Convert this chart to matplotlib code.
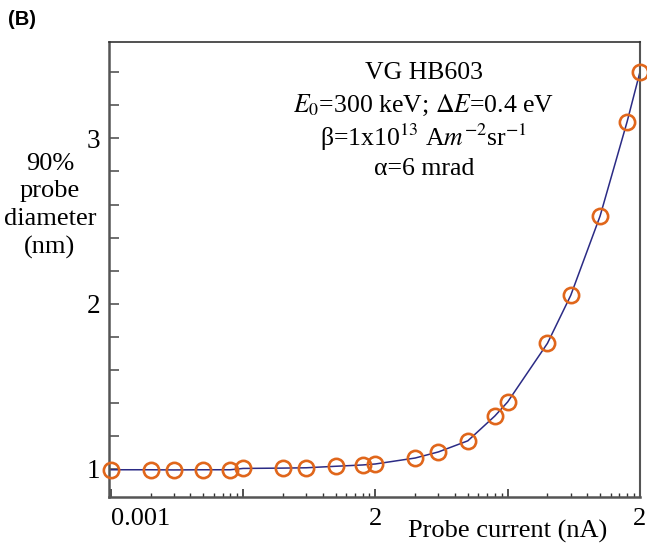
import matplotlib
matplotlib.use("Agg")
import matplotlib.pyplot as plt
from matplotlib.ticker import LogLocator, NullFormatter, MultipleLocator

plt.rcParams['font.family'] = ['Liberation Serif', 'DejaVu Serif']
plt.rcParams['mathtext.fontset'] = 'stix'

# probe current (nA) and 90% probe diameter (nm)
current = [0.001, 0.002, 0.003, 0.005, 0.008, 0.01, 0.02, 0.03, 0.05, 0.08, 0.1,
           0.2, 0.3, 0.5, 0.8, 1, 2, 3, 5, 8, 10]
diameter = [0.995, 0.995, 0.994, 0.995, 0.995, 1.003, 1.005, 1.007, 1.016, 1.024, 1.03,
            1.066, 1.103, 1.17, 1.32, 1.405, 1.76, 2.05, 2.53, 3.10, 3.40]

xtick_pos = [0.001, 0.01, 0.1, 1, 10]
xtick_labels = ["0.001", "", "2", "", "2"]
ytick_pos = [1, 2, 3]

params = ["VG HB603",
          r"$E_0$=300 keV; $\Delta E$=0.4 eV",
          r"β=1x10$^{13}$ A$m^{-2}$sr$^{-1}$",
          "α=6 mrad"]

fig = plt.figure(figsize=(6.47, 5.46), dpi=100)
ax = fig.add_axes([0.1677, 0.0903, 0.8213, 0.8327])

ax.plot(current, diameter, color='#2b2b85', lw=1.1, zorder=2, clip_on=False)
ax.plot(current, diameter, 'o', ms=11, mfc='none', mec='#e0661b', mew=1.9,
        zorder=3, clip_on=False)

ax.set_xscale('log')
ax.set_xlim(0.00096, 10)
ax.set_ylim(0.832, 3.583)

ax.set_xticks(xtick_pos)
ax.set_xticklabels(xtick_labels)
ax.xaxis.set_minor_locator(LogLocator(base=10, subs=range(2, 10)))
ax.xaxis.set_minor_formatter(NullFormatter())
ax.get_xticklabels()[0].set_ha('left')

ax.set_yticks(ytick_pos)
ax.yaxis.set_minor_locator(MultipleLocator(0.2))

ax.tick_params(axis='x', which='major', direction='in', length=6, width=1.2,
               labelsize=19, pad=8, color='#333333')
ax.tick_params(axis='x', which='minor', direction='in', length=3, width=1.0,
               color='#333333')
ax.tick_params(axis='y', which='both', direction='in', length=7.5, width=1.2,
               labelsize=19.5, pad=6, color='#555555')

for side in ['left', 'bottom']:
    ax.spines[side].set_color('#555555')
    ax.spines[side].set_linewidth(1.8)
ax.spines['top'].set_color('#333333')
ax.spines['top'].set_linewidth(1.2)
ax.spines['right'].set_color('#555555')
ax.spines['right'].set_linewidth(1.5)

# parameter block
for i, line in enumerate(params):
    fig.text(0.655, 0.866 - i * 0.0585, line, ha='center', va='center', fontsize=18.5)

fig.text(0.077, 0.623, "90%\nprobe\ndiameter\n(nm)", ha='center', va='center',
         fontsize=19, linespacing=1.32)
fig.text(0.784, 0.027, "Probe current (nA)", ha='center', va='center', fontsize=19)
fig.text(0.012, 0.965, "(B)", ha='left', va='center', fontsize=14.5,
         fontweight='bold', family=['Liberation Sans', 'DejaVu Sans'])

fig.savefig("out.png", dpi=100)
